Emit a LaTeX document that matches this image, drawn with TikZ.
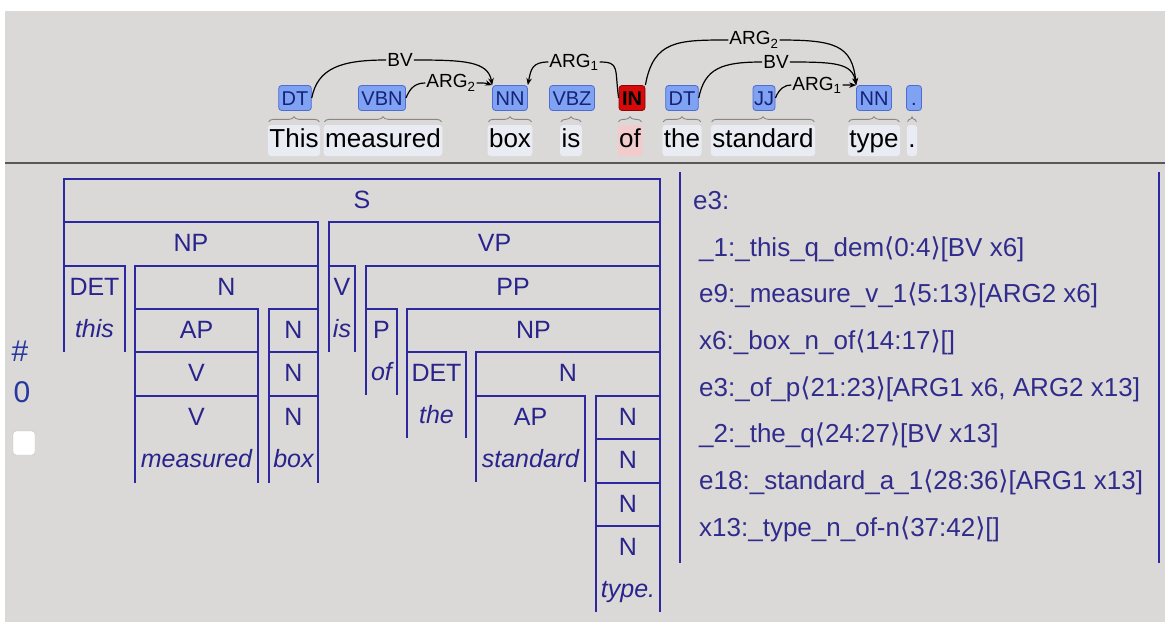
\documentclass[tikz,border=0pt]{standalone}
\usepackage{fontspec}
\setmainfont{Liberation Sans}
\newfontfamily\symfont{DejaVu Sans}
\usetikzlibrary{arrows.meta,decorations.pathreplacing,calc}

\definecolor{pagebg}{RGB}{219,216,216}
\definecolor{sepgray}{RGB}{88,88,88}
\definecolor{treeblue}{RGB}{44,40,160}
\definecolor{treetext}{RGB}{40,36,140}
\definecolor{mrstext}{RGB}{48,44,140}
\definecolor{tagfill}{RGB}{128,162,242}
\definecolor{tagedge}{RGB}{78,108,210}
\definecolor{tagtext}{RGB}{22,34,120}
\definecolor{redfill}{RGB}{214,10,10}
\definecolor{rededge}{RGB}{150,0,0}
\definecolor{wordbg}{RGB}{234,236,243}
\definecolor{wordpink}{RGB}{242,204,204}
\definecolor{bracegray}{RGB}{135,135,135}
\definecolor{numblue}{RGB}{40,56,160}

\newcommand\angl{{\symfont\char"27E8}}
\newcommand\angr{{\symfont\char"27E9}}

% one constituent: top rule with side rules, label in its first row
\newcommand\treecell[6]{%
  \draw[treeline] (#2,#5) -- (#2,#4) -- (#3,#4) -- (#3,#5);
  \node[treelab] (#1) at ({(#2+#3)/2},{#4+29}) {#6};}
% a pre-terminal with the word beneath its label
\newcommand\treeleaf[7]{%
  \treecell{#1}{#2}{#3}{#4}{#5}{#6}
  \node[treeword] (#1w) at ({(#2+#3)/2},{#4+71}) {#7};}

\begin{document}
\begin{tikzpicture}[x=1pt,y=-1pt,
  treeline/.style={draw=treeblue,line width=1.4pt,line join=miter},
  treelab/.style={anchor=base,inner sep=0pt,text=treetext,font=\fontsize{25}{28}\selectfont},
  treeword/.style={treelab,font=\fontsize{25}{28}\selectfont\itshape},
  mrsline/.style={anchor=base west,inner sep=0pt,text=mrstext,font=\fontsize{26}{30}\selectfont},
  tag/.style={rectangle,rounded corners=3pt,fill=tagfill,draw=tagedge,line width=0.8pt,
    text=tagtext,font=\fontsize{20}{20}\selectfont,inner xsep=3pt,inner ysep=0pt,
    text height=14.5pt,text depth=0pt,minimum height=25pt},
  tagred/.style={tag,fill=redfill,draw=rededge,text=black,font=\fontsize{20}{20}\selectfont\bfseries},
  word/.style={anchor=base,rectangle,rounded corners=3pt,fill=wordbg,inner xsep=1.5pt,inner ysep=2pt,
    text height=20pt,text depth=7pt,font=\fontsize{26}{30}\selectfont,text=black},
  brc/.style={draw=bracegray,line width=0.9pt,decorate,decoration={brace,amplitude=5pt}},
  arc/.style={draw=black,line width=1.2pt},
  arcto/.style={arc,-{Stealth[length=7pt,width=5.5pt]}},
  arclab/.style={fill=pagebg,inner sep=1pt,text=black,font=\fontsize{19}{19}\selectfont}]

\useasboundingbox (0,0) rectangle (1165,622);
\fill[white] (0,0) rectangle (1165,622);
\fill[pagebg] (5,11) rectangle (1165,622);
\draw[sepgray,line width=2.4pt] (5,163) -- (1165,163);

% ---------- tagged sentence ----------
\node[word] (w1) at (294,147) {This};
\node[word] (w2) at (383,147) {measured};
\node[word] (w3) at (510,147) {box};
\node[word] (w4) at (571,147) {is};
\node[word,fill=wordpink] (w5) at (630,147) {of};
\node[word] (w6) at (682,147) {the};
\node[word] (w7) at (763,147) {standard};
\node[word] (w8) at (874,147) {type};
\node[word] (w9) at (912,147) {.};

\foreach \w in {w1,w2,w3,w4,w5,w6,w7,w8,w9}
  \draw[brc] ($(\w.north west)+(1,-3)$) -- ($(\w.north east)+(-1,-3)$);

\node[tag] (t1) at (295,98) {DT};
\node[tag] (t2) at (382,98) {VBN};
\node[tag] (t3) at (510,98) {NN};
\node[tag] (t4) at (572,98) {VBZ};
\node[tagred] (t5) at (632,98) {IN};
\node[tag] (t6) at (682,98) {DT};
\node[tag,inner xsep=1pt] (t7) at (764,98) {JJ};
\node[tag] (t8) at (874,98) {NN};
\node[tag,minimum width=15pt,inner xsep=2pt] (t9) at (914,98) {.};

% dependency labels
\node[arclab] (lbv1) at (400,60) {BV};
\node[arclab] (la2a) at (451,83) {ARG\textsubscript{2}};
\node[arclab] (la1a) at (574,62) {ARG\textsubscript{1}};
\node[arclab] (la2b) at (754,40) {ARG\textsubscript{2}};
\node[arclab] (lbv2) at (776,62) {BV};
\node[arclab] (la1b) at (817,85) {ARG\textsubscript{1}};

% dependency arcs
\draw[arc] (t1.east) .. controls +(6,-30) and +(-45,0) .. (lbv1.west);
\draw[arcto] (lbv1.east) .. controls +(50,0) and +(-4,-24) .. (t3.north west);
\draw[arc] (t2.east) .. controls +(4,-10) and +(-10,0) .. (la2a.west);
\draw[arcto] (la2a.east) .. controls +(8,0) and +(-6,-2) .. (t3.north west);
\draw[arc] (t5.west) .. controls +(-4,-30) and +(20,0) .. (la1a.east);
\draw[arcto] (la1a.west) .. controls +(-16,0) and +(3,-16) .. (t3.north east);
\draw[arc] (t5.north east) .. controls +(8,-45) and +(-50,0) .. (la2b.west);
\draw[arcto] (la2b.east) .. controls +(55,0) and +(-4,-40) .. (t8.north west);
\draw[arc] (t6.east) .. controls +(6,-30) and +(-40,0) .. (lbv2.west);
\draw[arcto] (lbv2.east) .. controls +(45,0) and +(-4,-22) .. (t8.north west);
\draw[arc] (t7.east) .. controls +(4,-10) and +(-6,0) .. (la1b.west);
\draw[arcto] (la1b.east) -- (t8.north west);

% ---------- result index ----------
\node[text=numblue,font=\fontsize{30}{32}\selectfont,inner sep=0pt] (hash) at (20,351) {\#};
\node[text=numblue,font=\fontsize{30}{32}\selectfont,inner sep=0pt] (idx) at (22,392) {0};
\node[draw=black!25,fill=white,rounded corners=3pt,minimum width=22pt,minimum height=24pt,inner sep=0pt] (chk) at (24,443) {};

% ---------- phrase structure tree ----------
\treecell{s}{64}{660}{179}{222}{S}
\treecell{np}{64}{318}{222}{266}{NP}
\treeleaf{det}{64}{125}{266}{352}{DET}{this}
\treecell{nbar}{135}{318}{266}{309}{N}
\treecell{ap}{135}{258}{309}{352}{AP}
\treecell{va}{135}{258}{352}{396}{V}
\treeleaf{vb}{135}{258}{396}{483}{V}{measured}
\treecell{na}{269}{318}{309}{352}{N}
\treecell{nb}{269}{318}{352}{396}{N}
\treeleaf{nc}{269}{318}{396}{483}{N}{box}
\treecell{vp}{329}{660}{222}{266}{VP}
\treeleaf{v}{329}{355}{266}{352}{V}{is}
\treecell{pp}{366}{660}{266}{309}{PP}
\treeleaf{p}{366}{397}{309}{395}{P}{of}
\treecell{npb}{407}{660}{309}{352}{NP}
\treeleaf{detb}{407}{466}{352}{438}{DET}{the}
\treecell{nbarb}{476}{660}{352}{396}{N}
\treeleaf{apb}{476}{585}{396}{482}{AP}{standard}
\treecell{nd}{596}{660}{396}{439}{N}
\treecell{ne}{596}{660}{439}{483}{N}
\treecell{nf}{596}{660}{483}{526}{N}
\treeleaf{ng}{596}{660}{526}{612}{N}{type.}

% ---------- semantic representation ----------
\draw[treeline] (680,172) -- (680,563);
\draw[treeline] (1159,172) -- (1159,563);
\node[mrsline] (m0) at (693,209) {e3:};
\node[mrsline] (m1) at (699,256) {\_1:\_this\_q\_dem\angl 0:4\angr[BV x6]};
\node[mrsline] (m2) at (699,302) {e9:\_measure\_v\_1\angl 5:13\angr[ARG2 x6]};
\node[mrsline] (m3) at (699,349) {x6:\_box\_n\_of\angl 14:17\angr[]};
\node[mrsline] (m4) at (699,396) {e3:\_of\_p\angl 21:23\angr[ARG1 x6, ARG2 x13]};
\node[mrsline] (m5) at (699,442) {\_2:\_the\_q\angl 24:27\angr[BV x13]};
\node[mrsline] (m6) at (699,489) {e18:\_standard\_a\_1\angl 28:36\angr[ARG1 x13]};
\node[mrsline] (m7) at (699,536) {x13:\_type\_n\_of-n\angl 37:42\angr[]};
\end{tikzpicture}
\end{document}
